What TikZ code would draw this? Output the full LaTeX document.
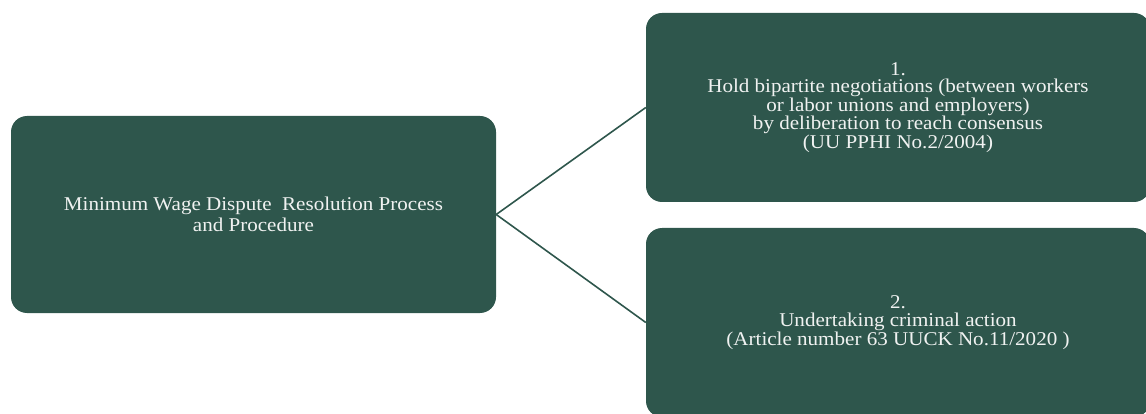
\documentclass[tikz,border=0pt]{standalone}
\usepackage{fontspec}
\setmainfont{Liberation Serif}[FakeStretch=1.08]
\definecolor{boxgreen}{RGB}{46,86,76}
\definecolor{txt}{RGB}{240,242,241}
\tikzset{
  gbox/.style={rectangle, rounded corners=16pt, fill=boxgreen, draw=none, inner sep=0pt,
    text=txt, align=center, font=\fontsize{19.5}{17.5}\selectfont},
  link/.style={draw=boxgreen, line width=1.6pt}
}
\begin{document}
\begin{tikzpicture}[x=1pt,y=-1pt]
\clip (0,0) rectangle (1146,414);
\node[gbox, minimum width=485pt, minimum height=197pt, font=\fontsize{19.5}{21}\selectfont] (L) at (253.5,214.5)
  {Minimum Wage Dispute\ \ Resolution Process\\and Procedure};
\node[gbox, minimum width=504pt, minimum height=189pt] (T) at (898,107.5)
  {1.\\Hold bipartite negotiations (between workers\\or labor unions and employers)\\by deliberation to reach consensus\\(UU PPHI No.2/2004)};
\node[gbox, minimum width=504pt, minimum height=189pt] (B) at (898,322.5)
  {2.\\Undertaking criminal action\\(Article number 63 UUCK No.11/2020 )};
\draw[link] (L.east) -- (T.west);
\draw[link] (L.east) -- (B.west);
\end{tikzpicture}
\end{document}
